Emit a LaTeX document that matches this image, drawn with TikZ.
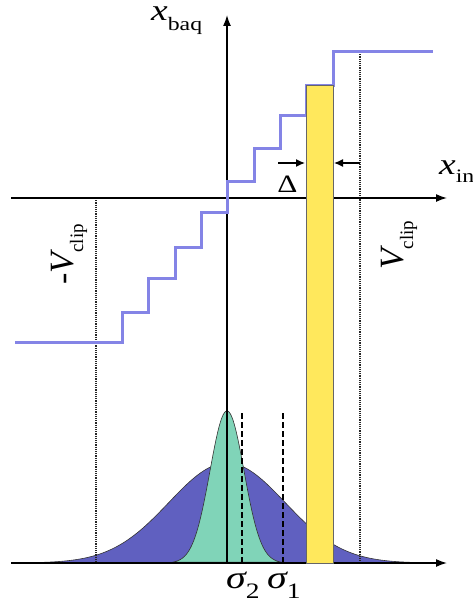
\documentclass[tikz,border=0pt]{standalone}
\usepackage{fontspec}
\setmainfont{Liberation Serif}
\usetikzlibrary{arrows.meta}
\definecolor{stair}{HTML}{8484E6}
\definecolor{bary}{HTML}{FFE85C}
\definecolor{gwide}{HTML}{6060C0}
\definecolor{gnarrow}{HTML}{80D4B8}
\newcommand{\fsz}[1]{\fontsize{#1}{#1}\selectfont}
\newcommand{\hs}[1]{\scalebox{1.25}[1]{#1}}
\begin{document}
\begin{tikzpicture}[x=1pt,y=-1pt,
  axisline/.style={line width=1.5pt,-{Latex[length=11pt,width=8pt]}},
  stairline/.style={stair,line width=3pt,line join=miter},
  clipline/.style={line width=1.3pt,dash pattern=on 1.2pt off 1pt,black!85},
  sigline/.style={line width=2.6pt,dash pattern=on 6pt off 3pt},
  dimarrow/.style={line width=1.4pt,-{Latex[length=9pt,width=8pt]}},
  curve/.style={line width=0.6pt,draw=black!80},
  lbl/.style={inner sep=0pt}]
\useasboundingbox (0,0) rectangle (473,604);
% coordinates
\coordinate (vbot) at (227,563);
\coordinate (vtop) at (227,15);
\coordinate (mleft) at (11,198);
\coordinate (mright) at (447,198);
\coordinate (bleft) at (11,563);
\coordinate (bright) at (447,563);
% gaussians
\filldraw[fill=gwide,curve] plot[domain=-3.3:3.3,samples=140] ({227+58*\x},{563-100*exp(-0.5*\x*\x)}) -- cycle;
\filldraw[fill=gnarrow,curve] plot[domain=-3.2:3.2,samples=140] ({227+17*\x},{563-152*exp(-0.5*\x*\x)}) -- cycle;
% clip lines
\coordinate (lc1) at (96,198); \coordinate (lc2) at (96,563);
\coordinate (rc1) at (360,52); \coordinate (rc2) at (360,563);
\draw[clipline] (lc1) -- (lc2);
\draw[clipline] (rc1) -- (rc2);
% sigma lines
\coordinate (s2t) at (242,413); \coordinate (s2b) at (242,563);
\coordinate (s1t) at (283,413); \coordinate (s1b) at (283,563);
\draw[sigline] (s2t) -- (s2b);
\draw[sigline] (s1t) -- (s1b);
% axes
\draw[axisline] (vbot) -- (vtop);
\draw[axisline] (mleft) -- (mright);
\draw[axisline] (bleft) -- (bright);
% staircase
\draw[stairline] (15,342) -- (122,342) -- (122,312) -- (148,312) -- (148,278) -- (175,278)
  -- (175,247) -- (201,247) -- (201,212) -- (227,212) -- (227,181) -- (254,181)
  -- (254,149) -- (280,149) -- (280,116) -- (306,116) -- (306,86) -- (333.5,86)
  -- (333.5,52) -- (433,52);
% bar
\filldraw[fill=bary,draw=black!60,line width=0.8pt] (306,85) rectangle (333,563);
% delta arrows
\coordinate (da1) at (278,163); \coordinate (da2) at (305,163);
\coordinate (db1) at (360,163); \coordinate (db2) at (334,163);
\draw[dimarrow] (da1) -- (da2);
\draw[dimarrow] (db1) -- (db2);
% labels
\node[lbl,anchor=base] (delta) at (287.5,192) {\hs{\fsz{25}Δ}};
\node[lbl,anchor=base west] (xbaq) at (151,21) {\hs{{\fsz{30}\itshape x}\raisebox{-10pt}{\fsz{19}baq}}};
\node[lbl,anchor=base west] (xin) at (439,175) {\hs{{\fsz{30}\itshape x}\raisebox{-8pt}{\fsz{19}in}}};
\node[lbl,anchor=base west] (sig2) at (226,588) {\hs{{\fsz{32}\itshape σ}\raisebox{-10pt}{\fsz{22}2}}};
\node[lbl,anchor=base west] (sig1) at (267,588) {\hs{{\fsz{32}\itshape σ}\raisebox{-10pt}{\fsz{22}1}}};
\node[lbl,rotate=90,anchor=base west] (vneg) at (73,285) {{\fsz{34}-\itshape V}\raisebox{-10pt}{\fsz{19}clip}};
\node[lbl,rotate=90,anchor=base west] (vpos) at (403,270) {{\fsz{34}\itshape V}\raisebox{-10pt}{\fsz{19}clip}};
\end{tikzpicture}
\end{document}
